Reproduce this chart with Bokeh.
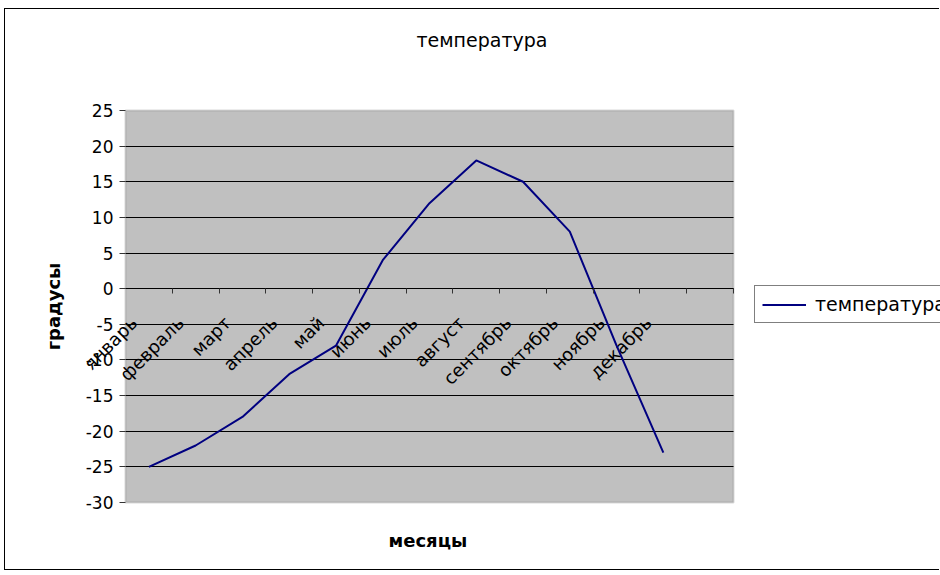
import math
from bokeh.plotting import figure
from bokeh.models import (Range1d, LinearAxis, FixedTicker, Legend, LegendItem,
                          BoxAnnotation, ColumnDataSource, Grid, Title)
from bokeh.core.properties import value
from bokeh.embed import file_html
from bokeh.resources import INLINE

# ---- data ----
months = ["январь", "февраль", "март", "апрель", "май", "июнь",
          "июль", "август", "сентябрь", "октябрь", "ноябрь", "декабрь"]
temperature = [-25, -22, -18, -12, -8, 4, 12, 18, 15, 8, -8, -23]
y_ticks = [-30, -25, -20, -15, -10, -5, 0, 5, 10, 15, 20, 25]
y_tick_labels = ["-30", "-25", "-20", "-15", "-10", "-5", "0",
                 "5", "10", "15", "20", "25"]
title_text = "температура"
series_name = "температура"
x_label = "месяцы"
y_label = "градусы"
axis_cross = 0            # the category axis crosses the value axis at 0

# ---- layout constants (page pixels) ----
FONT = "DejaVu Sans"
OX, OY = 5, 9                       # canvas origin on page (after css border)
W, H = 935, 562
PLOT_L, PLOT_R, PLOT_T, PLOT_B = 125, 733, 110, 502
PAD_Y = 10
FRAME_L = 74

n_slots = len(months) + 1           # one empty slot at the end, as in the original
slot_px = (PLOT_R - PLOT_L) / n_slots
unit_px = (PLOT_B - PLOT_T) / (y_ticks[-1] - y_ticks[0])
x_start = -(PLOT_L - FRAME_L) / slot_px
x_end = n_slots + (W + OX - PLOT_R) / slot_px
y_start = y_ticks[0] - PAD_Y / unit_px
y_end = y_ticks[-1] + PAD_Y / unit_px

fl = FRAME_L - OX
ft = PLOT_T - PAD_Y - OY
fb = PLOT_B + PAD_Y - OY

x_centers = [i + 0.5 for i in range(len(months))]
boundaries = list(range(1, n_slots + 1))
grid_ticks = y_ticks[1:-1]

src = ColumnDataSource(dict(x=x_centers, t=temperature, m=months,
                            y0=[axis_cross] * len(months)))

p = figure(width=W, height=H, output_backend="svg", toolbar_location=None,
           x_range=Range1d(x_start, x_end), y_range=Range1d(y_start, y_end),
           x_axis_type=None, y_axis_type=None,
           min_border_left=fl, min_border_right=0,
           min_border_top=ft, min_border_bottom=H - fb,
           background_fill_color="white", border_fill_color="white",
           outline_line_color=None,
           styles={"margin-left": "4px", "margin-top": "8px",
                   "border-left": "1px solid black",
                   "border-top": "1px solid black",
                   "border-bottom": "1px solid black"})
p.title.text = ""
p.title.visible = False

# plot area
p.add_layout(BoxAnnotation(left=0, right=n_slots, bottom=y_ticks[0], top=y_ticks[-1],
                           fill_color="#C0C0C0", fill_alpha=1,
                           line_color="#808080", line_width=2, level="underlay"))

# horizontal gridlines, limited to the plot area
if "cross_bounds" in Grid.properties():
    p.add_layout(Grid(dimension=1, ticker=FixedTicker(ticks=grid_ticks),
                      cross_bounds=(0, n_slots),
                      grid_line_color="black", grid_line_width=1))
else:
    gsrc = ColumnDataSource(dict(y=grid_ticks, x0=[0] * len(grid_ticks),
                                 x1=[n_slots] * len(grid_ticks)))
    p.segment(x0="x0", x1="x1", y0="y", y1="y", source=gsrc,
              line_color="black", line_width=1)


def spacer(gap):
    return LinearAxis(ticker=FixedTicker(ticks=[]), major_tick_out=0, major_tick_in=0,
                      major_tick_line_color=None, minor_tick_line_color=None,
                      axis_line_color=None, major_label_standoff=0,
                      axis_label=" ", axis_label_text_font_size="1px",
                      axis_label_text_alpha=0, axis_label_standoff=gap)


# chart title (above, outside a spacer)
p.add_layout(spacer(53 - (PAD_Y - 3)), "above")
p.add_layout(Title(text=title_text, align="left", offset=342, standoff=0,
                   vertical_align="bottom", text_font=FONT, text_font_size="19px",
                   text_font_style="normal", text_color="black"), "above")

# value axis at x = 0
ya = LinearAxis(fixed_location=0, bounds=(y_ticks[0], y_ticks[-1]),
                ticker=FixedTicker(ticks=y_ticks),
                major_label_overrides={v: s for v, s in zip(y_ticks, y_tick_labels)},
                axis_line_color=None, major_tick_in=0, major_tick_out=6,
                major_tick_line_color="#333333", minor_tick_line_color=None,
                major_label_standoff=6, major_label_text_font=FONT,
                major_label_text_font_size="17px", major_label_text_color="black")
p.add_layout(ya, "left")

# y axis title
ylab = LinearAxis(ticker=FixedTicker(ticks=[]), major_tick_out=0, major_tick_in=0,
                  major_tick_line_color=None, minor_tick_line_color=None,
                  axis_line_color=None, major_label_standoff=0,
                  axis_label=y_label, axis_label_text_font=FONT,
                  axis_label_text_font_size="18px", axis_label_text_font_style="bold",
                  axis_label_text_color="black", axis_label_standoff=11)
p.add_layout(ylab, "left")

# category axis crossing at 0: ticks at slot boundaries
tick_axis = LinearAxis(fixed_location=axis_cross, bounds=(0, n_slots),
                       ticker=FixedTicker(ticks=boundaries),
                       major_tick_in=0, major_tick_out=5,
                       major_tick_line_color="#333333",
                       minor_tick_line_color=None, axis_line_color="black",
                       major_label_text_color=None)
p.add_layout(tick_axis, "below")

# category labels, rotated
p.text(x="x", y="y0", text="m", source=src, angle=math.pi / 4,
       text_align="right", text_baseline="middle", x_offset=-15, y_offset=31,
       text_font=value(FONT), text_font_size="18px", text_color="black")

# x axis title (below, outside a spacer)
p.add_layout(spacer(20 - (PAD_Y - 3)), "below")
p.add_layout(Title(text=x_label, align="left", offset=314, standoff=0,
                   vertical_align="top", text_font=FONT, text_font_size="18px",
                   text_font_style="bold", text_color="black"), "below")

# series
r = p.line("x", "t", source=src, line_color="#000080", line_width=2)

legend = Legend(items=[LegendItem(label=series_name, renderers=[r])],
                location=(754 - FRAME_L, fb - (323 - OY)),
                orientation="vertical",
                border_line_color="black", border_line_width=1,
                background_fill_color="white", background_fill_alpha=1,
                label_text_font=FONT, label_text_font_size="19px",
                label_text_color="black",
                glyph_width=44, glyph_height=19, label_height=19,
                label_standoff=9, padding=7, spacing=0, margin=0)
p.add_layout(legend, "center")

open("out.html", "w").write(file_html(p, INLINE))
